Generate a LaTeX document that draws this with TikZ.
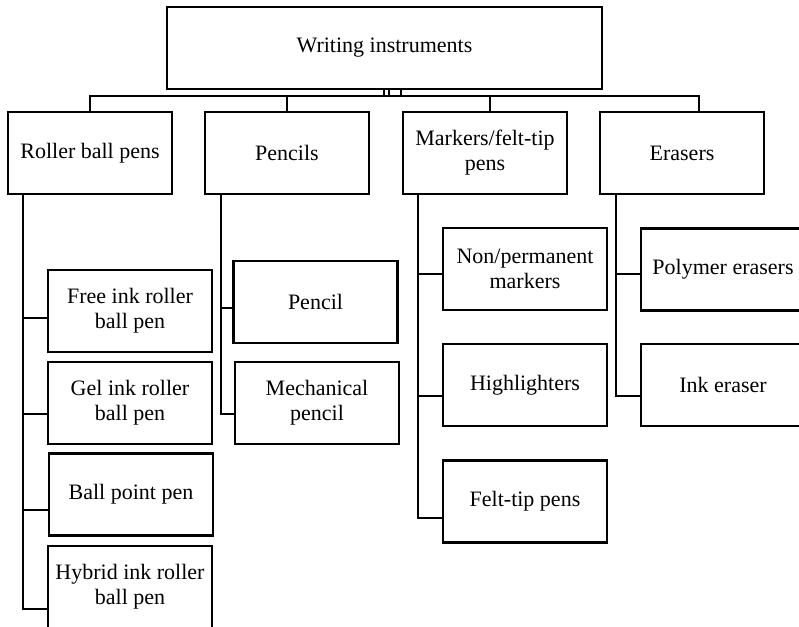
\documentclass[tikz,border=0pt]{standalone}
\usepackage{fontspec}
\setmainfont{Liberation Serif}
\begin{document}
\begin{tikzpicture}[x=1pt,y=-1pt,
  box/.style={draw, line width=2.2pt, minimum width=164pt, minimum height=82pt,
    inner sep=0pt, align=center, font=\fontsize{22}{25}\selectfont},
  link/.style={draw, line width=2.2pt}]
\useasboundingbox (0,0) rectangle (799,626);

% root
\node[box, minimum width=435pt] (root) at (384.5,48) {Writing instruments};

% first level
\node[box] (roller)  at (90,153)  {Roller ball pens};
\node[box] (pencils) at (287,153) {Pencils};
\node[box] (markers) at (485,153) {Markers/felt-tip\\pens};
\node[box] (erasers) at (682,153) {Erasers};

% roller ball pens
\node[box] (free)   at (130,311)   {Free ink roller\\ball pen};
\node[box] (gel)    at (130,403)   {Gel ink roller\\ball pen};
\node[box] (ball)   at (131,494.5) {Ball point pen};
\node[box] (hybrid) at (130,587)   {Hybrid ink roller\\ball pen};

% pencils
\node[box] (pencil) at (315.5,302) {Pencil};
\node[box] (mech)   at (317,403)   {Mechanical\\pencil};

% markers
\node[box] (nonperm) at (525,269)   {Non/permanent\\markers};
\node[box] (highl)   at (525,385)   {Highlighters};
\node[box] (felt)    at (525,501.5) {Felt-tip pens};

% erasers
\node[box] (polymer) at (723,269.5) {Polymer erasers};
\node[box] (inkers)  at (723,385)   {Ink eraser};

% bus under the root
\coordinate (bus) at (0,96);
\draw[link] ([xshift=-0.5pt]root.south) -- ([xshift=-0.5pt]root.south |- bus);
\draw[link] ([xshift=4.5pt]root.south) -- ([xshift=4.5pt]root.south |- bus);
\draw[link] ([xshift=16.5pt]root.south) -- ([xshift=16.5pt]root.south |- bus);
\draw[link] (roller.north) |- ([xshift=17pt]erasers.north |- bus) -- ([xshift=17pt]erasers.north);
\draw[link] (pencils.north) -- (pencils.north |- bus);
\draw[link] ([xshift=5pt]markers.north) -- ([xshift=5pt]markers.north |- bus);

% stems below first level
\coordinate (rs) at ([xshift=16pt]roller.south west);
\coordinate (ps) at ([xshift=17pt]pencils.south west);
\coordinate (ms) at ([xshift=16pt]markers.south west);
\coordinate (es) at ([xshift=17pt]erasers.south west);

\draw[link] ([yshift=-22pt]hybrid.west) -| (rs);
\draw[link] ([yshift=-15.5pt]ball.west) -| (rs);
\draw[link] ([yshift=-11pt]gel.west) -| (rs);
\draw[link] ([yshift=-7pt]free.west) -| (rs);

\draw[link] ([yshift=-11pt]mech.west) -| (ps);
\draw[link] ([yshift=-6pt]pencil.west) -| (ps);

\draw[link] ([yshift=-16.5pt]felt.west) -| (ms);
\draw[link] ([yshift=-11pt]highl.west) -| (ms);
\draw[link] ([yshift=-5pt]nonperm.west) -| (ms);

\draw[link] ([yshift=-11pt]inkers.west) -| (es);
\draw[link] ([yshift=-4.5pt]polymer.west) -| (es);
\end{tikzpicture}
\end{document}
